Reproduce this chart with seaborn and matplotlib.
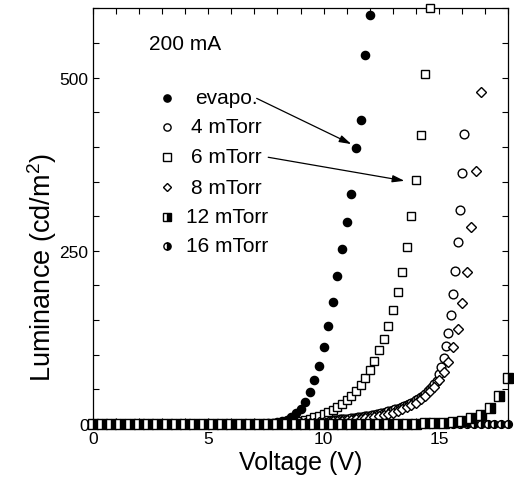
import numpy as np
import matplotlib
matplotlib.use("Agg")
import matplotlib.pyplot as plt
import seaborn as sns
import pandas as pd

# ---------------- data ----------------
# evaporated device, 0.2 V steps from 0 to 12.0 V
v_evapo = np.round(np.arange(0, 12.0001, 0.2), 2)
l_evapo = [0.0] * 36 + [
    0.3, 0.6, 1.0, 1.8, 3.0, 4.5, 6.5, 10, 15.5, 22,
    32, 46, 63, 84, 111, 141, 176, 213, 253, 292,
    332, 399, 439, 533, 591]

# 4 mTorr, 0.1 V steps from 0 to 16.1 V
v_4 = np.round(np.arange(0, 16.1001, 0.1), 2)
l_4 = [0.0] * 80 + [
    0.6, 0.8, 1.0, 1.2, 1.4, 1.6, 1.8, 2.0, 2.2, 2.4,
    2.5, 2.7, 2.9, 3.1, 3.3, 3.5, 3.7, 3.9, 4.1, 4.3,
    4.6, 4.9, 5.2, 5.5, 5.8, 6.1, 6.4, 6.7, 7.0, 7.2,
    7.5, 7.9, 8.3, 8.7, 9.1, 9.5, 10.0, 10.5, 11.0, 11.5,
    12.0, 12.6, 13.3, 14.0, 14.8, 15.6, 16.4, 17.2, 18.1, 19.0,
    20.0, 21.0, 22.1, 23.3, 24.6, 26.0, 27.5, 29.0, 30.6, 32.3,
    34, 36, 38.5, 41, 44, 47, 50.5, 54, 58, 62.5,
    72, 82, 95, 112, 132, 157, 187, 221, 262, 309,
    362, 418]

# 6 mTorr, 0.2 V steps from 0 to 14.6 V
v_6 = np.round(np.arange(0, 14.6001, 0.2), 2)
l_6 = [0.0] * 39 + [
    0.3, 0.5, 0.8, 1.3, 2, 3, 4.5, 6, 7.5, 9.5,
    11.5, 14, 17, 20, 24, 29, 34, 41, 48, 57,
    67, 78, 91, 107, 123, 142, 165, 190, 220, 256,
    300, 352, 417, 505, 600]

# 8 mTorr, 0.2 V steps from 0 to 16.8 V
v_8 = np.round(np.arange(0, 16.8001, 0.2), 2)
l_8 = [0.0] * 40 + [
    0.2, 0.3, 0.5, 0.7, 0.9, 1.2, 1.5, 1.8, 2.1, 2.5,
    2.9, 3.3, 3.8, 4.3, 4.8, 5.4, 6.0, 6.6, 7.3, 8.0,
    9, 10, 11, 12.5, 14, 16, 18.5, 21, 24, 27,
    31, 36, 41, 47, 54, 63, 75, 90, 111, 137,
    174, 220, 284, 365, 479]

# 12 mTorr, 0.4 V steps from 0 to 18 V
v_12 = np.round(np.arange(0, 18.0001, 0.4), 2)
l_12 = [0.0] * 33 + [0.3, 0.5, 0.7, 1.0, 1.5, 2.0, 3.0, 4.8, 8, 13, 23, 41, 67]

# 16 mTorr, 0.3 V steps from 0 to 18 V
v_16 = np.round(np.arange(0, 18.0001, 0.3), 2)
l_16 = [0.0] * len(v_16)

legend_labels = ["evapo.", "4 mTorr", "6 mTorr", "8 mTorr", "12 mTorr", "16 mTorr"]
x_ticks = [0, 5, 10, 15]
y_ticks = [0, 250, 500]

# ---------------- style ----------------
sns.set_theme(style="white")
plt.rcParams["font.family"] = ["Liberation Sans", "DejaVu Sans"]
plt.rcParams["mathtext.fontset"] = "custom"
plt.rcParams["mathtext.rm"] = "Liberation Sans"
plt.rcParams["mathtext.it"] = "Liberation Sans:italic"
for key in ["text.color", "axes.labelcolor", "xtick.color", "ytick.color",
            "axes.edgecolor"]:
    plt.rcParams[key] = "black"

fig = plt.figure(figsize=(5.14, 4.85), dpi=100)
ax = fig.add_axes([0.1804, 0.1237, 0.8086, 0.8571])

mew = 1.0
series = [
    (v_16, l_16, dict(marker="o", markersize=5.6, mfc="black", mfcalt="white",
                       fillstyle="right", mec="black")),
    (v_evapo, l_evapo, dict(marker="o", markersize=5.9, mfc="black", mec="black")),
    (v_4, l_4, dict(marker="o", markersize=6.3, mfc="white", mec="black")),
    (v_6, l_6, dict(marker="s", markersize=6.2, mfc="white", mec="black")),
    (v_8, l_8, dict(marker="D", markersize=4.6, mfc="white", mec="black")),
    (v_12, l_12, dict(marker="s", markersize=6.5, mfc="black", mfcalt="white",
                       fillstyle="right", mec="black")),
]

for vx, ly, kw in series:
    df = pd.DataFrame({"V": vx, "L": ly})
    kw = dict(kw)
    alt = kw.pop("mfcalt", None)
    if alt is not None:
        kw["markerfacecoloralt"] = alt
    sns.lineplot(data=df, x="V", y="L", ax=ax, estimator=None, sort=False,
                 linestyle="none", color="black", markeredgewidth=mew,
                 clip_on=False, zorder=3, **kw)

# legend (drawn manually as in the original)
leg_y = [471, 429, 385.5, 342, 299.5, 257]
leg_styles = [
    dict(marker="o", markersize=5.2, mfc="black", mec="black"),
    dict(marker="o", markersize=5.2, mfc="white", mec="black"),
    dict(marker="s", markersize=5.2, mfc="white", mec="black"),
    dict(marker="D", markersize=3.8, mfc="white", mec="black"),
    dict(marker="s", markersize=5.2, mfc="black", markerfacecoloralt="white",
         fillstyle="right", mec="black"),
    dict(marker="o", markersize=5.2, mfc="black", markerfacecoloralt="white",
         fillstyle="right", mec="black"),
]
for yy, lab, st in zip(leg_y, legend_labels, leg_styles):
    ax.plot([3.2], [yy], linestyle="none", markeredgewidth=mew, **st)
    ax.text(5.8, yy, lab, ha="center", va="center", fontsize=15, color="black")

ax.text(2.45, 549, "200 mA", ha="left", va="center", fontsize=15, color="black")

# arrows
arrow_kw = dict(arrowstyle="-|>,head_length=0.6,head_width=0.18", color="black",
                lw=0.9, shrinkA=0, shrinkB=0)
ax.annotate("", xy=(11.2, 404), xytext=(7.1, 470), arrowprops=arrow_kw)
ax.annotate("", xy=(13.5, 351), xytext=(7.6, 385), arrowprops=arrow_kw)

# axes
ax.set_xlim(0, 18)
ax.set_ylim(0, 600)
ax.set_xticks(x_ticks)
ax.set_xticks(np.arange(0, 18.01, 1), minor=True)
ax.set_yticks(y_ticks)
ax.set_yticks(np.arange(0, 600.1, 50), minor=True)
ax.tick_params(which="both", direction="in", top=True, right=True,
               bottom=True, left=True, length=4, width=0.8, color="black",
               labelcolor="black", labelsize=12.5)
ax.tick_params(axis="x", pad=5)
ax.tick_params(axis="y", pad=3)
for sp in ax.spines.values():
    sp.set_color("black")
    sp.set_linewidth(0.9)

ax.set_xlabel("Voltage (V)", fontsize=18, labelpad=3, color="black")
ax.set_ylabel("Luminance (cd/m$^2$)", fontsize=19.5, color="black")
ax.yaxis.set_label_coords(-0.08, 0.378)
ax.grid(False)
if ax.get_legend() is not None:
    ax.get_legend().remove()

fig.savefig("out.png", dpi=100)
